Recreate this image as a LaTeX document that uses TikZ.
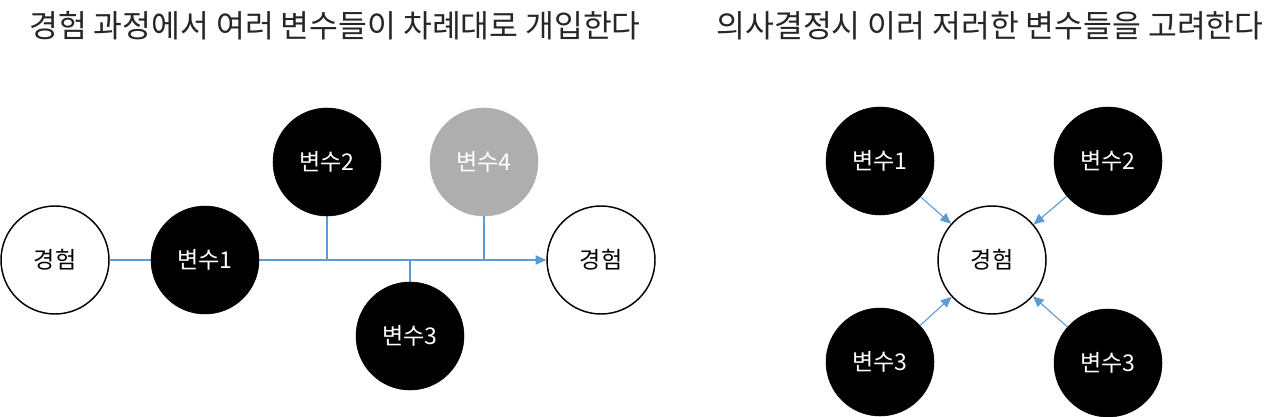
\documentclass[tikz,border=0pt]{standalone}
\usepackage{fontspec}
\setmainfont{Noto Sans CJK KR}
\usetikzlibrary{arrows.meta,backgrounds}
\definecolor{lineblue}{HTML}{5B9BD5}
\definecolor{greyfill}{HTML}{AEAEAE}
\tikzset{
  base/.style={circle, minimum size=81pt, inner sep=0pt, font=\fontsize{17.3}{19}\selectfont},
  blk/.style={base, fill=black, draw=black, text=white},
  gry/.style={base, fill=greyfill, draw=greyfill, text=white},
  wht/.style={base, fill=white, draw=black, line width=1.1pt, text=black},
  title/.style={font=\fontsize{23.5}{26}\selectfont, text=black!85, inner sep=0pt},
  conn/.style={draw=lineblue, line width=0.8pt},
  arr/.style={conn, -{Triangle[length=8pt,width=7pt]}, fill=lineblue}
}
\begin{document}
\begin{tikzpicture}[x=0.75pt,y=-0.75pt]
\useasboundingbox (0,0) rectangle (1280,417);
\begin{pgfonlayer}{background}
\fill[white] (0,0) rectangle (1280,417);
\end{pgfonlayer}
% titles
\node[title] (t1) at (335,26) {경험 과정에서 여러 변수들이 차례대로 개입한다};
\node[title] (t2) at (990,26) {의사결정시 이러 저러한 변수들을 고려한다};
% left diagram
\node[wht] (ga) at (55,260) {경험};
\node[blk] (a1) at (205,260) {변수1};
\node[blk] (a2) at (327,162) {변수2};
\node[gry] (a4) at (484,162) {변수4};
\node[blk] (a3) at (410,336) {변수3};
\node[wht] (gb) at (601,260) {경험};
\begin{pgfonlayer}{background}
\draw[arr] (ga.east) -- (gb.west);
\draw[conn] (a2.south) -- (a2.south |- ga.east);
\draw[conn] (a4.south) -- (a4.south |- ga.east);
\draw[conn] (a3.north) -- (a3.north |- ga.east);
\end{pgfonlayer}
% right diagram
\node[wht] (gc) at (992,260) {경험};
\node[blk] (b1) at (880,161) {변수1};
\node[blk] (b2) at (1108,161) {변수2};
\node[blk] (b3) at (880,362) {변수3};
\node[blk] (b4) at (1108,363) {변수3};
\draw[arr] (b1) -- (gc);
\draw[arr] (b2) -- (gc);
\draw[arr] (b3) -- (gc);
\draw[arr] (b4) -- (gc);
\end{tikzpicture}
\end{document}
